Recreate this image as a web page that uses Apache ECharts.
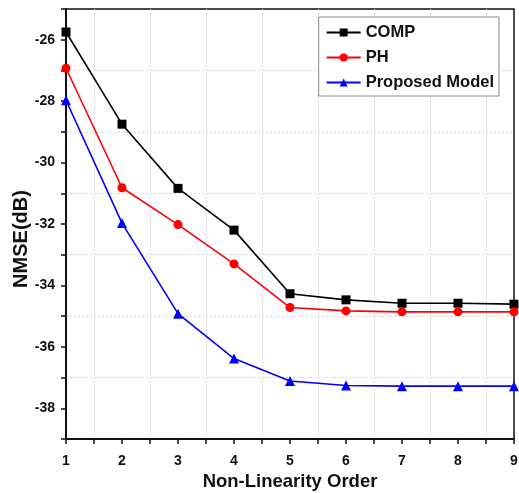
<!DOCTYPE html>
<html><head><meta charset="utf-8">
<script src="https://cdn.jsdelivr.net/npm/echarts@6/dist/echarts.min.js"></script>
<style>html,body{margin:0;padding:0;background:#fff}#c{width:519px;height:493px}</style>
</head><body><div id="c"></div>
<script>
const orders = [1, 2, 3, 4, 5, 6, 7, 8, 9];
const comp = [-25.75, -28.75, -30.84, -32.2, -34.27, -34.47, -34.58, -34.58, -34.61];
const ph = [-26.93, -30.82, -32.02, -33.3, -34.72, -34.83, -34.86, -34.86, -34.86];
const proposed = [-27.97, -31.97, -34.92, -36.38, -37.11, -37.26, -37.28, -37.28, -37.28];
const seriesNames = ['COMP', 'PH', 'Proposed Model'];

const font = 'Liberation Sans, Arial, sans-serif';
const pair = arr => orders.map((x, i) => [x, arr[i]]);
const chart = echarts.init(document.getElementById('c'));
const mk = (name, data, color, symbol, size) => ({
  name, type: 'line', data: pair(data), yAxisIndex: 0,
  symbol, symbolSize: size, color,
  lineStyle: { width: 1.6, color }, itemStyle: { color },
  z: 5
});
const gridDash = { color: '#d8d8d8', type: [2, 2], width: 1 };
chart.setOption({
  animation: false,
  grid: { left: 66, top: 9, right: 5, bottom: 54, outerBoundsMode: 'none', containLabel: false,
    show: true, borderColor: '#111', borderWidth: 1.5, backgroundColor: 'transparent' },
  legend: {
    right: 20, top: 17, orient: 'vertical', itemGap: 8,
    itemWidth: 34, itemHeight: 10,
    backgroundColor: '#fff', borderColor: '#888', borderWidth: 1, padding: [7, 5, 5, 7],
    textStyle: { fontFamily: font, fontWeight: 'bold', fontSize: 16.5, color: '#111' },
    data: seriesNames
  },
  xAxis: {
    type: 'value', min: 1, max: 9, interval: 1,
    name: 'Non-Linearity Order', nameLocation: 'middle', nameGap: 33,
    nameTextStyle: { fontFamily: font, fontWeight: 'bold', fontSize: 18.5, color: '#111' },
    axisLine: { lineStyle: { color: '#111', width: 2 } },
    axisTick: { show: true, inside: false, length: 5, lineStyle: { color: '#111', width: 1.5 } },
    minorTick: { show: true, splitNumber: 2, length: 5, lineStyle: { color: '#111', width: 1.5 } },
    splitLine: { show: false },
    minorSplitLine: { show: true, lineStyle: gridDash },
    axisLabel: { fontFamily: font, fontWeight: 'bold', fontSize: 14, color: '#111', margin: 15 }
  },
  yAxis: [{
    type: 'value', min: -39, max: -25, interval: 1,
    name: 'NMSE(dB)', nameLocation: 'middle', nameGap: 35, nameMoveOverlap: false,
    nameTextStyle: { fontFamily: font, fontWeight: 'bold', fontSize: 20, color: '#111', padding: [0, 30, 0, 0] },
    axisLine: { show: true, lineStyle: { color: '#111', width: 2 } },
    axisTick: { show: true, inside: false, length: 5, lineStyle: { color: '#111', width: 1.5 } },
    splitLine: { show: false },
    axisLabel: { fontFamily: font, fontWeight: 'bold', fontSize: 14, color: '#111', margin: 11,
      formatter: v => (Math.round(v) % 2 === 0 ? String(v) : '') }
  }, {
    type: 'value', min: -39, max: -25, interval: 2, position: 'left',
    axisLine: { show: false }, axisTick: { show: false }, axisLabel: { show: false },
    splitLine: { show: true, showMinLine: false, showMaxLine: false, lineStyle: gridDash }
  }],
  series: [
    mk(seriesNames[0], comp, '#000000', 'rect', 9),
    mk(seriesNames[1], ph, '#ff0000', 'circle', 9),
    mk(seriesNames[2], proposed, '#0000ff', 'triangle', 10)
  ]
});
</script></body></html>
